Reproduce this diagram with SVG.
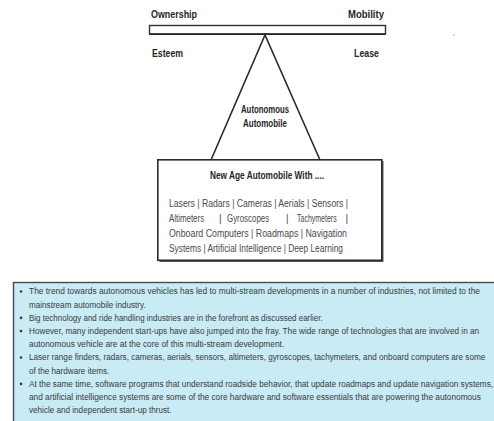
<svg xmlns="http://www.w3.org/2000/svg" width="494" height="421" viewBox="0 0 494 421">
  <style>
    .lbl { font-family: "Liberation Sans", Arial, sans-serif; font-weight: bold; font-size: 10px; fill: #262626; }
    .body { font-family: "Liberation Sans", Arial, sans-serif; font-size: 10px; fill: #4a4a4a; }
    .note { font-family: "Liberation Sans", Arial, sans-serif; font-size: 9.3px; fill: #3a3a3a; }
    .edge { fill: none; stroke: #2a2a2a; stroke-width: 1.6; stroke-linejoin: miter; }
  </style>
  <rect width="494" height="421" fill="#ffffff"/>

  <!-- balance beam with its four end labels -->
  <g id="beam">
    <rect x="149.5" y="25.5" width="236" height="8.5" fill="#ffffff" stroke="#333333" stroke-width="1.4"/>
    <line x1="149.5" y1="34.2" x2="385.5" y2="34.2" stroke="#222222" stroke-width="1.6"/>
    <text class="lbl" x="151" y="18" textLength="46" lengthAdjust="spacingAndGlyphs">Ownership</text>
    <text class="lbl" x="348" y="18" textLength="36" lengthAdjust="spacingAndGlyphs">Mobility</text>
    <text class="lbl" x="152" y="57" textLength="31" lengthAdjust="spacingAndGlyphs">Esteem</text>
    <text class="lbl" x="354" y="57" textLength="25" lengthAdjust="spacingAndGlyphs">Lease</text>
  </g>

  <circle cx="454" cy="35" r="0.8" fill="#9a9a9a"/>

  <!-- fulcrum -->
  <g id="fulcrum">
    <polyline class="edge" points="211,160 265,35 320,160"/>
    <text class="lbl" x="265" y="113" text-anchor="middle" textLength="48" lengthAdjust="spacingAndGlyphs" font-size="9">Autonomous</text>
    <text class="lbl" x="265" y="127" text-anchor="middle" textLength="44" lengthAdjust="spacingAndGlyphs" font-size="9">Automobile</text>
  </g>

  <!-- technology box -->
  <g id="tech-box">
    <rect x="159.5" y="161" width="224" height="101" fill="#5a5a5a"/>
    <rect x="157.8" y="159.8" width="224" height="100.5" fill="#ffffff" stroke="#2a2a2a" stroke-width="1.6"/>
    <text class="lbl" x="210" y="179" textLength="114" lengthAdjust="spacingAndGlyphs" font-size="9.5">New Age Automobile With ....</text>
    <text class="body" x="169" y="207" textLength="179" lengthAdjust="spacingAndGlyphs">Lasers | Radars | Cameras | Aerials | Sensors |</text>
    <!-- justified row: each word placed on its own -->
    <text class="body" transform="translate(169,222) scale(0.79,1)">Altimeters</text>
    <text class="body" x="219" y="222">|</text>
    <text class="body" transform="translate(227,222) scale(0.79,1)">Gyroscopes</text>
    <text class="body" x="286" y="222">|</text>
    <text class="body" transform="translate(297,222) scale(0.7,1)">Tachymeters</text>
    <text class="body" x="345.5" y="222">|</text>
    <text class="body" x="169" y="237" textLength="178" lengthAdjust="spacingAndGlyphs">Onboard Computers | Roadmaps | Navigation</text>
    <text class="body" x="169" y="252" textLength="174" lengthAdjust="spacingAndGlyphs">Systems | Artificial Intelligence | Deep Learning</text>
  </g>

  <!-- notes panel -->
  <g id="notes">
    <rect x="13.5" y="282.5" width="490" height="150" fill="#c8ebf6" stroke="#4a4a4a" stroke-width="1.4"/>
    <g fill="#3a3a3a">
      <circle cx="21" cy="291.5" r="1.3"/>
      <circle cx="21" cy="317.9" r="1.3"/>
      <circle cx="21" cy="331.1" r="1.3"/>
      <circle cx="21" cy="357.5" r="1.3"/>
      <circle cx="21" cy="383.9" r="1.3"/>
    </g>
    <!-- condensed body copy: text runs are narrowed horizontally -->
    <g transform="translate(29,0) scale(0.874,1)">
      <text class="note" x="0" y="294.5" textLength="516" lengthAdjust="spacingAndGlyphs">The trend towards autonomous vehicles has led to multi-stream developments in a number of industries, not limited to the</text>
      <text class="note" x="0" y="307.7">mainstream automobile industry.</text>
      <text class="note" x="0" y="320.9" textLength="336" lengthAdjust="spacingAndGlyphs">Big technology and ride handling industries are in the forefront as discussed earlier.</text>
      <text class="note" x="0" y="334.1" textLength="515" lengthAdjust="spacingAndGlyphs">However, many independent start-ups have also jumped into the fray. The wide range of technologies that are involved in an</text>
      <text class="note" x="0" y="347.3" textLength="292" lengthAdjust="spacingAndGlyphs">autonomous vehicle are at the core of this multi-stream development.</text>
      <text class="note" x="0" y="360.5" textLength="522" lengthAdjust="spacingAndGlyphs">Laser range finders, radars, cameras, aerials, sensors, altimeters, gyroscopes, tachymeters, and onboard computers are some</text>
      <text class="note" x="0" y="373.7">of the hardware items.</text>
      <text class="note" x="0" y="386.9" textLength="531" lengthAdjust="spacingAndGlyphs">At the same time, software programs that understand roadside behavior, that update roadmaps and update navigation systems,</text>
      <text class="note" x="0" y="400.1" textLength="517" lengthAdjust="spacingAndGlyphs">and artificial intelligence systems are some of the core hardware and software essentials that are powering the autonomous</text>
      <text class="note" x="0" y="413.3">vehicle and independent start-up thrust.</text>
    </g>
  </g>
</svg>
